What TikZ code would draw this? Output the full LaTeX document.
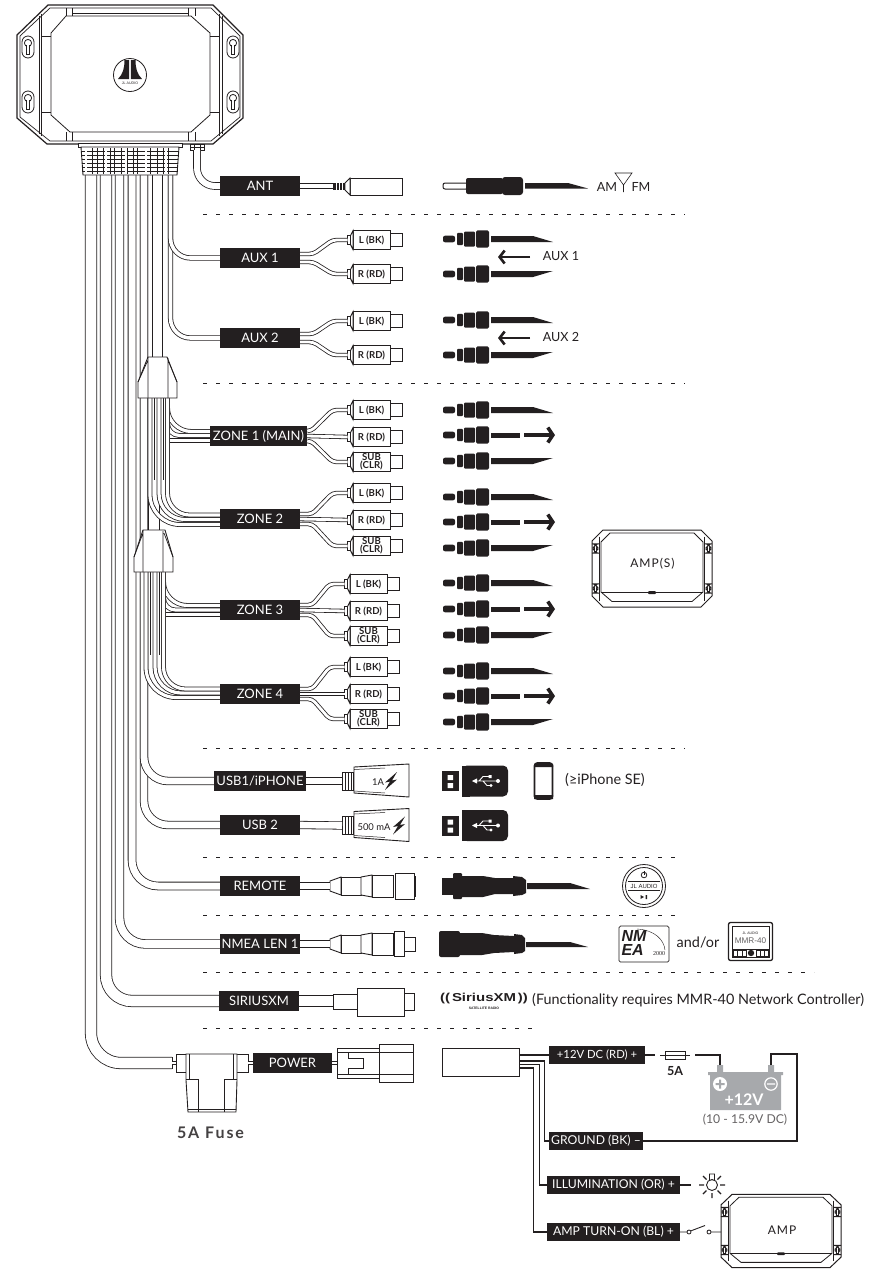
\documentclass[tikz,border=0pt]{standalone}
\usepackage{fontspec}
\setmainfont{Lato}
\newfontfamily\logofont{Liberation Sans}
\newfontfamily\wideface[FakeStretch=1.3]{Liberation Sans}
\newfontfamily\tinyserif{Liberation Serif}
\usetikzlibrary{calc}
\usetikzlibrary{arrows.meta}
\definecolor{ink}{HTML}{231F20}
\definecolor{batgray}{HTML}{A7A9AC}

\begin{document}
\begin{tikzpicture}[x=1pt, y=-1pt, line join=miter,
  lbl/.style={fill=ink, text=white, inner sep=0pt, minimum height=20pt, minimum width=#1pt, font=\fontsize{13}{14}\selectfont},
  lbs/.style={fill=ink, text=white, inner sep=0pt, minimum height=18pt, minimum width=#1pt, font=\fontsize{12.2}{13}\selectfont},
  captxt/.style={text=ink, inner sep=0pt, font=\fontsize{12.6}{13}\selectfont},
  notetxt/.style={text=ink, inner sep=0pt, font=\fontsize{14.4}{15}\selectfont},
  rcabody/.style={draw=ink, fill=white, line width=.9pt, inner sep=0pt, minimum width=37pt, minimum height=19pt, align=center, text=ink, font=\fontsize{9.6}{8.2}\selectfont\bfseries},
  wire/.style={draw=ink, line width=.8pt, double=white, double distance=#1pt},
  fan/.style={wire=2.8, rounded corners=4pt},
  dots/.style={ink, line width=1pt, dash pattern=on 4pt off 9pt},
  part/.style={draw=ink, fill=white, line width=.9pt},
  pwr/.style={ink, line width=1.3pt},
  pics/keyhole/.style={code={
    \draw[ink, line width=.8pt, rounded corners=6pt] (-6,-11) rectangle (6,11);
    \draw[ink, line width=.8pt] (0,-4) circle (3.6pt);
    \draw[ink, line width=.8pt, fill=white] (-1.8,-2) -- (-1.8,7) -- (1.8,7) -- (1.8,-2);
    \fill[white] (-1.4,-4) rectangle (1.4,6);
  }},
  pics/ampbox/.style={code={
    \draw[ink, line width=1pt, fill=white] (-49,-38.5) -- (49,-38.5) -- (60,-27.5) -- (60,27.5) -- (49,38.5) -- (-49,38.5) -- (-60,27.5) -- (-60,-27.5) -- cycle;
    \draw[ink, line width=1pt] (-53,-32) -- (-53,32) (52,-32) -- (52,32);
    \draw[ink, line width=.8pt] (-42,-35.5) -- (42,-35.5) -- (51,-26.5) -- (51,23.5) -- (40,33) -- (-40,33) -- (-51,23.5) -- (-51,-26.5) -- cycle;
    \draw[ink, line width=.7pt] (-51,23.5) -- (51,23.5);
    \fill[ink, rounded corners=1pt] (-4,22.5) rectangle (4,25.5);
    \foreach \kx in {-56.5,56.5}
      \foreach \ky in {-20,20}
        \pic[scale=.42] at (\kx,\ky) {keyhole};
  }},
  pics/plughead/.style={code={
    \fill[ink, rounded corners=2pt] (443,-3.3) rectangle (455,3.3);
    \fill[ink, rounded corners=1pt] (457,-6.2) rectangle (463,6.2);
    \fill[ink, rounded corners=1pt] (464,-7.5) rectangle (475,7.5);
    \fill[ink, rounded corners=1.5pt] (476,-8.7) rectangle (489,8.7);
  }},
  pics/usbplug/.style={code={
    \fill[ink] (442,-10) rectangle (459,10);
    \fill[white] (447.5,-6) rectangle (453,-1) (447.5,2) rectangle (453,7);
    \fill[ink, rounded corners=5pt] (462,-15.5) -- (508,-15.5) -- (508,15.5) -- (462,15.5) -- cycle;
    \fill[ink] (462,-15.5) rectangle (470,15.5);
    \draw[white, line width=.9pt] (475,0) -- (497,0) (479,0) -- (483,-4.5) -- (489,-4.5) (483,0) -- (487,4.5) -- (490,4.5);
    \fill[white] (472,0) -- (477,-2.6) -- (477,2.6) -- cycle;
    \fill[white] (498,0) circle (2pt) (488.5,-6) rectangle (491.5,-3) (491,4.5) circle (1.7pt);
  }},
  pics/bolt/.style={code={
    \fill[ink] (6,-9) -- (-6,1.5) -- (-1,.5) -- (-6,9) -- (6,-1.5) -- (1,-.5) -- cycle;
  }},
  pics/circular/.style={code={
    \draw[part] (330,-5) -- (341,-9) -- (341,9) -- (330,5) -- cycle;
    \draw[part] (341,-9) rectangle (361,9);
    \draw[part] (361,-9) -- (372,-11) -- (372,11) -- (361,9) -- cycle;
    \draw[part] (372,-11) rectangle (393,11);
  }}]
\useasboundingbox (0,0) rectangle (892,1270);

% head unit
\draw[ink, line width=1.2pt, fill=white] (48,5) -- (213,5) -- (243,35) -- (243,118) -- (213,144) -- (47,144) -- (17,118) -- (17,35) -- cycle;
\draw[ink, line width=.7pt] (50,8) -- (211,8) -- (240,36) -- (240,117) -- (211,141) -- (50,141) -- (20,117) -- (20,36) -- cycle;
\draw[ink, line width=.8pt] (39,16) -- (39,134) (41,14) -- (41,136) (219,14) -- (219,136) (222,16) -- (222,134);
\draw[ink, line width=.8pt] (66,16) -- (191,16) -- (210,33) -- (210,115) -- (191,132) -- (70,132) -- (51,115) -- (51,33) -- cycle;
\draw[ink, line width=.6pt] (66,8) -- (66,16) (72,8) -- (72,16) (188,8) -- (188,16) (195,8) -- (195,16) (72,13) -- (188,13)
  (41,36) -- (51,36) (41,112) -- (51,112) (210,36) -- (219,36) (210,112) -- (219,112)
  (66,132) -- (66,141) (72,132) -- (72,141) (188,132) -- (188,141) (195,132) -- (195,141);
\foreach \kx in {28,233}
  \foreach \ky in {47,102}
    \pic at (\kx,\ky) {keyhole};
\draw[ink, line width=.8pt] (130,75) circle (16.5pt);
\fill[ink] (124.5,60) -- (129.2,60) -- (129.2,79) -- (118,79) .. controls (123,74) and (124.5,68) .. cycle;
\fill[ink] (135.5,60) -- (130.8,60) -- (130.8,79) -- (142,79) .. controls (137,74) and (135.5,68) .. cycle;
\node[text=ink, inner sep=0pt, font=\logofont\fontsize{3.6}{4}\selectfont] (logoname) at (130,83) {JL AUDIO};

% labels
\node[lbl=80] (ant) at (260,186) {ANT};
\node[lbl=80] (aux1) at (260,258) {AUX 1};
\node[lbl=80] (aux2) at (260,338) {AUX 2};
\node[lbl=97] (zone1) at (258.5,436) {ZONE 1 (MAIN)};
\node[lbl=80] (zone2) at (260,519) {ZONE 2};
\node[lbl=80] (zone3) at (260,610) {ZONE 3};
\node[lbl=80] (zone4) at (260,694) {ZONE 4};
\node[lbl=92] (usb1) at (260,781) {USB1/iPHONE};
\node[lbl=80] (usb2) at (260,825) {USB 2};
\node[lbl=80] (remote) at (260,886) {REMOTE};
\node[lbl=80] (nmea) at (260,944) {NMEA LEN 1};
\node[lbl=80] (sirius) at (259,1001) {SIRIUSXM};
\node[lbl=79] (power) at (292.5,1063) {POWER};

% section rules
\foreach \ry/\rx in {214/685, 383/685, 748/685, 857/683, 915/683, 972/814, 1028/532}
  \draw[dots] (203,\ry) -- (\rx,\ry);

% cable trunk
\foreach \tn/\tx/\ln/\tw/\tr in {tsirius/106/sirius/10.6/26, tnmea/119.5/nmea/7.8/26, tremote/132/remote/7/26, tusbb/144/usb2/6.8/24, tusba/144/usb1/6.8/24, taux/170.5/aux2/3.6/20, tauy/170.5/aux1/3.6/20}{
  \coordinate (\tn) at (\tx,175);
  \draw[wire=\tw, rounded corners=\tr pt] (\tn) |- (\ln.west);
}
\coordinate (tpower) at (91,175);
\coordinate (pwend) at (172,1063);
\draw[wire=10.6, rounded corners=30pt] (tpower) |- (pwend);
\draw[ink, line width=.7pt] (172,1057) -- (172,1069);

% zone bundles
\coordinate (zbun) at (157.5,175);
\coordinate (zbuntop) at (157.5,357);
\draw[wire=9.6] (zbun) -- (zbuntop);
\draw[wire=10.6] (154,500) -- (154,530);

\draw[wire=3.2, rounded corners=24pt] (167.5,398) |- ($(zone1.west)+(0,-4.5)$);
\draw[wire=3.2, rounded corners=12pt] (167.5,418) |- ($(zone1.west)+(0,-.5)$);
\draw[wire=3.2] (168.5,440.5) -- ($(zone1.west)+(0,4.5)$);
\draw[wire=3.2, rounded corners=30pt] (150,398) |- ($(zone2.west)+(0,5.5)$);
\draw[wire=3.2, rounded corners=26pt] (159,398) |- ($(zone2.west)+(0,.5)$);
\draw[wire=3.2, rounded corners=22pt] (167.5,398) |- ($(zone2.west)+(0,-4)$);
\draw[ink, line width=.6pt] (154.5,398) -- (154.5,480) (163.5,398) -- (163.5,480);

\draw[wire=3.2, rounded corners=24pt] (163.5,572) |- ($(zone3.west)+(0,-4.5)$);
\draw[wire=3.2, rounded corners=12pt] (163.5,592) |- ($(zone3.west)+(0,0)$);
\draw[wire=3.2] (164.5,614.5) -- ($(zone3.west)+(0,4.5)$);
\draw[wire=3.2, rounded corners=30pt] (146,572) |- ($(zone4.west)+(0,3.5)$);
\draw[wire=3.2, rounded corners=26pt] (155,572) |- ($(zone4.west)+(0,-1)$);
\draw[wire=3.2, rounded corners=22pt] (163.5,572) |- ($(zone4.west)+(0,-5)$);
\draw[ink, line width=.6pt] (150.5,572) -- (150.5,655) (159.5,572) -- (159.5,655);

% bundle clamps
\draw[part] (148,357) -- (167,357) -- (177,382) -- (177,398) -- (138,398) -- (138,382) -- cycle;
\draw[ink, line width=.7pt] (148,357) -- (148,398) (168,358) -- (168,398) (138,382) -- (148,360) (177,382) -- (168,360);
\draw[part] (143,530) -- (165,530) -- (173,557) -- (173,572) -- (134,572) -- (134,557) -- cycle;
\draw[ink, line width=.7pt] (143,530) -- (143,572) (163,531) -- (163,572) (134,557) -- (143,533) (173,557) -- (164,533);

% wiring collar
\draw[part] (78,143) rectangle (182,147);
\draw[part] (81,147) -- (179,147) -- (177,175) -- (83,175) -- cycle;
\foreach \cy in {151,155,159,163,167,171}
  \draw[ink, line width=.9pt] (82,\cy) -- (178,\cy);
\foreach \cx in {92,97,103,110,114,121,127,133,137,145,150,157,163,168}
  \draw[ink, line width=.5pt] (\cx,148) -- (\cx,174);
\foreach \cx in {86,106,126,146,166}
  \draw[white, line width=1.4pt] (\cx,148) -- (\cx,174);

% antenna lead
\draw[part] (190,144) rectangle (204,150);
\draw[ink, line width=.7pt] (190,147) -- (204,147) (194,144) -- (194,150) (200,144) -- (200,150);
\coordinate (tant) at (197,150);
\draw[wire=6, rounded corners=18pt] (tant) |- (ant.west);
\coordinate (antend) at (334,186);
\draw[wire=3.6] (ant.east) -- (antend);
\node[part, minimum width=52pt, minimum height=17pt, inner sep=0pt] (antjack) at (376,186.5) {};
\draw[part] (345,183) -- (350,178) -- (350,195) -- (345,190) -- cycle;
\fill[ink] (333,183) rectangle (345,190);
\foreach \rbx in {336,339,342}
  \draw[white, line width=.4pt] (\rbx,183) -- (\rbx,190);

% RCA pigtails
\foreach \rn/\rt/\ry/\rs in {a1l/L (BK)/240/0, a1r/R (RD)/274/0, a2l/L (BK)/321/0, a2r/R (RD)/355/0,
    z1l/L (BK)/410/0, z1r/R (RD)/437/0, z1s/{SUB\\(CLR)}/462/0,
    z2l/L (BK)/493/0, z2r/R (RD)/520/0, z2s/{SUB\\(CLR)}/546/0,
    z3l/L (BK)/584/-3, z3r/R (RD)/611/-3, z3s/{SUB\\(CLR)}/636/-3,
    z4l/L (BK)/667/-3, z4r/R (RD)/694/-3, z4s/{SUB\\(CLR)}/719/-3}{
  \draw[part] (388+\rs,\ry-6.5) rectangle (402+\rs,\ry+6.5);
  \node[rcabody] (\rn) at (371.5+\rs,\ry) {\rt};
  \draw[part] (347.5+\rs,\ry-4.5) -- (350.5+\rs,\ry-4.5) -- (353+\rs,\ry-9.5) -- (353+\rs,\ry+9.5) -- (350.5+\rs,\ry+4.5) -- (347.5+\rs,\ry+4.5) -- cycle;
  \draw[ink, line width=.6pt] (350.5+\rs,\ry-4.5) -- (350.5+\rs,\ry+4.5);
}
\foreach \an/\al/\ar in {aux1/a1l/a1r, aux2/a2l/a2r}{
  \draw[fan] ($(\an.east)+(0,-4)$) -- ($(\an.east)+(13,-4)$) -- ($(\al.west)+(-20,0)$) -- ($(\al.west)+(-5,0)$);
  \draw[fan] ($(\an.east)+(0,4)$) -- ($(\an.east)+(13,4)$) -- ($(\ar.west)+(-20,0)$) -- ($(\ar.west)+(-5,0)$);
}
\foreach \zn/\zl/\zr/\zs/\zx in {zone1/z1l/z1r/z1s/4, zone2/z2l/z2r/z2s/12, zone3/z3l/z3r/z3s/12, zone4/z4l/z4r/z4s/12}{
  \draw[fan] ($(\zn.east)+(0,-5)$) -- ($(\zn.east)+(\zx,-5)$) -- ($(\zl.west)+(-20,0)$) -- ($(\zl.west)+(-5,0)$);
  \draw[fan] (\zn.east) -- ($(\zr.west)+(-5,0)$);
  \draw[fan] ($(\zn.east)+(0,5)$) -- ($(\zn.east)+(\zx,5)$) -- ($(\zs.west)+(-20,0)$) -- ($(\zs.west)+(-5,0)$);
}

% RCA plugs
\foreach \py in {239,320,410,497,583,671}{
  \pic at (0,\py) {plughead};
  \fill[ink] (491,\py-3) -- (533,\py-3) -- (553,\py+3) -- (491,\py+3) -- cycle;
}
\foreach \py in {274,355,461,548,635,722}{
  \pic at (0,\py) {plughead};
  \fill[ink] (491,\py-3) -- (553,\py-3) -- (533,\py+3) -- (491,\py+3) -- cycle;
}
\foreach \py in {435,522,609,696}{
  \pic at (0,\py) {plughead};
  \fill[ink] (491,\py-2.5) rectangle (520,\py+2.5);
  \draw[ink, line width=3.6pt, -{Straight Barb[length=5pt,width=15pt]}] (524,\py) -- (555,\py);
}

% antenna plug
\draw[ink, line width=1pt, fill=white, rounded corners=2pt] (443,183) rectangle (468,189);
\fill[ink, rounded corners=2pt] (466,178) rectangle (503,194);
\fill[ink, rounded corners=3pt] (502,177) rectangle (523,195);
\fill[ink] (525,183) -- (568,183) -- (588,188.5) -- (525,188.5) -- cycle;
\node[captxt] (am) at (607,187) {AM};
\node[captxt] (fm) at (641,187) {FM};
\coordinate (anttip) at (623.5,185);
\draw[ink, line width=.6pt] (615,173) -- (632,173) -- (anttip) -- cycle (anttip) -- (623.5,192);

% aux arrows
\foreach \sn/\st/\sy in {tagaux1/AUX 1/256, tagaux2/AUX 2/337}{
  \draw[ink, line width=2.6pt, -{Straight Barb[length=5pt,width=13pt]}] (530,\sy+1) -- (498,\sy+1);
  \node[captxt] (\sn) at (561,\sy) {\st};
}

% USB
\foreach \un/\ut/\uy in {usba/{1A}/781, usbb/{500 mA}/825.5}{
  \draw[part] (354,\uy-14) -- (409,\uy-17) -- (409,\uy+16) -- (354,\uy+12) -- cycle;
  \draw[ink, line width=.5pt] (354,\uy-11.5) -- (385,\uy-13) (354,\uy+10) -- (385,\uy+12);
  \draw[part] (342,\uy-9) rectangle (353,\uy+9);
  \foreach \ux in {345,348,351}
    \draw[ink, line width=.7pt] (\ux,\uy-9) -- (\ux,\uy+9);
  \pic at (0,\uy) {usbplug};
}
\draw[wire=6.6] (usb1.east) -- (342,781);
\draw[wire=6.6] (usb2.east) -- (342,825.5);
\node[text=ink, inner sep=0pt, font=\fontsize{9.4}{10}\selectfont] (onea) at (378,782) {1A};
\pic at (391,781) {bolt};
\node[text=ink, inner sep=0pt, font=\fontsize{9.4}{10}\selectfont] (fivemilli) at (374,827) {500 mA};
\pic at (399,825.5) {bolt};
\draw[ink, line width=1.8pt, fill=white, rounded corners=3pt] (534.5,763) rectangle (552.5,799);
\fill[ink] (534,764) rectangle (553,767) (534,795) rectangle (553,799);
\node[notetxt] (iphone) at (605,780) {(≥iPhone SE)};

% remote
\pic at (0,886) {circular};
\draw[wire=6.6] (remote.east) -- (330,886);
\draw[part] (395,873) rectangle (414,899);
\draw[part] (414,876) rectangle (415.5,896);
\fill[ink] (442,878) rectangle (453,895);
\fill[ink, rounded corners=1pt] (453,873) rectangle (462,899);
\fill[ink] (462,876) -- (483,876) -- (495,878) -- (513,878) -- (513,894) -- (495,894) -- (483,897) -- (462,897) -- cycle;
\fill[ink] (513,876) -- (522,877) -- (526,880) -- (526,893) -- (522,895) -- (513,896) -- cycle;
\fill[ink] (527,883) -- (570,883) -- (590,889) -- (527,889) -- cycle;
\draw[ink, line width=.8pt] (644,886) circle (21.5pt) (644,886) circle (18.5pt);
\draw[ink, line width=.8pt] (628,881.5) -- (660,881.5) (628,890.5) -- (660,890.5);
\node[text=ink, inner sep=0pt, font=\logofont\fontsize{6}{6.5}\selectfont] (remlogo) at (644,886) {JL AUDIO};
\draw[ink, line width=.8pt] (644,875) circle (2.8pt);
\draw[ink, line width=.8pt] (644,871) -- (644,875);
\fill[ink] (640.5,895) -- (644,897) -- (640.5,899) -- cycle (645.5,895) rectangle (647,899);

% nmea
\pic at (0,944) {circular};
\draw[wire=6.6] (nmea.east) -- (330,944);
\draw[part] (404,937) rectangle (415,951);
\draw[part] (394,931) rectangle (404,956);
\fill[ink, rounded corners=2pt] (439,931) rectangle (460,957);
\fill[ink] (460,933) -- (482,933) -- (494,935) -- (514,936) -- (514,952) -- (494,953) -- (482,955) -- (460,955) -- cycle;
\fill[ink] (514,934) -- (522,935) -- (525,938) -- (525,951) -- (522,953) -- (514,954) -- cycle;
\fill[ink] (526,942) -- (570,942) -- (588,947) -- (526,947) -- cycle;
\node[draw=ink, line width=.7pt, rounded corners=1.5pt, minimum width=50pt, minimum height=36pt, inner sep=0pt] (nmeabadge) at (644,944) {};
\node[text=ink, inner sep=0pt, font=\logofont\bfseries\itshape\fontsize{16}{14}\selectfont, align=left] (nmeatext) at (634,943) {NM\\EA};
\draw[ink, line width=.4pt] (637,929) .. controls (655,930) and (664,940) .. (665,950);
\node[text=ink, inner sep=0pt, font=\tinyserif\fontsize{6}{6.5}\selectfont] (nmeayear) at (659,954) {2000};
\node[notetxt] (andor) at (698,943) {and/or};
\node[draw=ink, line width=1.3pt, rounded corners=2pt, minimum width=44pt, minimum height=38pt, inner sep=0pt] (mmr) at (750.5,941.5) {};
\draw[ink, line width=.5pt] (732,926) rectangle (769,957) (732,949) -- (769,949);
\node[text=ink, inner sep=0pt, font=\logofont\fontsize{3.5}{4}\selectfont] (mmrlogo) at (750.5,933.5) {JL AUDIO};
\node[text=ink!70, inner sep=0pt, font=\logofont\fontsize{8.2}{9}\selectfont] (mmrname) at (750.5,940.5) {MMR-40};
\fill[ink] (751,953) circle (3.2pt);
\draw[ink, line width=.6pt] (733,950.5) rectangle (746,956.5) (756,950.5) rectangle (768,956.5) (737.5,950.5) -- (737.5,956.5) (742,950.5) -- (742,956.5) (760,950.5) -- (760,956.5) (764,950.5) -- (764,956.5);

% sirius
\draw[wire=10.6] (sirius.east) -- (333,1001);
\draw[part] (333,994) rectangle (357,1009);
\draw[part] (404,993) rectangle (414,1010);
\node[part, minimum width=47pt, minimum height=28pt, inner sep=0pt] (siriusjack) at (380.5,1002) {};
\node[text=ink, inner sep=0pt, font=\wideface\bfseries\fontsize{11.5}{12}\selectfont] (siriuslogo) at (484,999) {((\,SiriusXM\,))};
\node[text=ink, inner sep=0pt, font=\logofont\bfseries\fontsize{3.4}{4}\selectfont] (siriussub) at (484,1008) {SATELLITE RADIO};
\node[notetxt, anchor=west] (siriusnote) at (532,1000) {(Functionality requires MMR-40 Network Controller)};

% fuse and power plug
\node[part, minimum width=72pt, minimum height=18pt, inner sep=0pt] (fuseh) at (212,1063) {};
\draw[wire=2.6] (pwend) -- (fuseh.west);
\draw[wire=2.6] (fuseh.east) -- (power.west);
\draw[part] (186,1054) -- (237,1054) -- (237,1080) -- (236,1112) -- (188,1112) -- (186,1080) -- cycle;
\draw[ink, line width=.7pt] (189,1054) -- (189,1079) (233,1054) -- (233,1079) (186,1079) -- (198,1079) -- (198,1112) (237,1079) -- (224,1079) -- (224,1112) (188,1109) -- (236,1109);
\node[text=ink!85, inner sep=0pt, font=\fontsize{16}{17}\selectfont\bfseries\addfontfeature{LetterSpace=12}] (fusetag) at (210.5,1133) {5A Fuse};
\draw[part] (379,1044) rectangle (413,1082);
\node[part, minimum width=42pt, minimum height=30pt, inner sep=0pt] (pplug) at (358,1063) {};
\draw[wire=2.6] (power.east) -- (pplug.west);
\draw[ink, line width=.7pt] (337,1052) -- (413,1052) (337,1074) -- (413,1074);
\draw[ink, line width=.7pt] (348,1052) -- (348,1058) -- (363,1058) -- (363,1068) -- (348,1068) -- (348,1074);

% power harness
\node[part, minimum width=77pt, minimum height=28pt, inner sep=0pt] (harness) at (480.5,1062) {};
\node[lbs=96, font=\fontsize{11.3}{12}\selectfont] (v12) at (597,1055) {+12V DC (RD) +};
\node[lbs=94] (gnd) at (596,1141) {GROUND (BK) –};
\node[lbs=133] (illum) at (613.5,1185) {ILLUMINATION (OR) +};
\node[lbs=133] (ampon) at (613.5,1232) {AMP TURN-ON (BL) +};
\draw[pwr] (harness.east |- v12) -- (v12);
\draw[pwr] ($(harness.east)+(0,-1)$) -| ($(gnd.west)+(-4,0)$) -- (gnd.west);
\draw[pwr] ($(harness.east)+(0,2.5)$) -| ($(illum.west)+(-7,0)$) -- (illum.west);
\draw[pwr] ($(harness.east)+(0,6)$) -| ($(ampon.west)+(-13,0)$) -- (ampon.west);

% battery
\node[draw=ink, line width=.7pt, fill=white, minimum width=20pt, minimum height=8pt, inner sep=0pt] (fuse5) at (675,1055) {};
\draw[ink, line width=.7pt] (660,1055) -- (690,1055);
\node[text=ink, inner sep=0pt, font=\fontsize{12.5}{13}\selectfont\bfseries] (fusefive) at (675,1071) {5A};
\draw[pwr] (v12.east) -- (655,1055);
\fill[batgray] (708,1072) rectangle (783,1075) (710,1075) rectangle (781,1110) (717,1065) rectangle (723,1072) (768,1065) rectangle (774,1072);
\coordinate (batplus) at (720,1065);
\coordinate (batminus) at (771,1065);
\draw[pwr] (695,1055) -| (batplus);
\fill[white] (720,1084) circle (7pt);
\fill[batgray] (719,1079.5) rectangle (721,1088.5) (715.5,1083) rectangle (724.5,1085);
\draw[white, line width=1.2pt] (771,1084) circle (6.2pt) (767,1084) -- (775,1084);
\node[text=white, inner sep=0pt, font=\fontsize{16}{17}\selectfont\bfseries] (batvolt) at (744,1100) {+12V};
\node[text=ink!70, inner sep=0pt, font=\fontsize{12.2}{13}\selectfont] (batrange) at (745,1120) {(10 - 15.9V DC)};
\draw[pwr] (batminus) |- (797,1054) |- (gnd.east);

% lamp
\coordinate (lamp) at (712,1185);
\draw[pwr] (illum.east) -- (691,1185);
\draw[ink, line width=.9pt] (lamp) circle (5.5pt) (709.5,1180) rectangle (714.5,1174);
\draw[ink, line width=1.2pt] (699,1185) -- (704,1185) (720,1185) -- (725,1185) (712,1193) -- (712,1198)
  (703,1176) -- (706.5,1179.5) (721,1176) -- (717.5,1179.5) (703,1194) -- (706.5,1190.5) (721,1194) -- (717.5,1190.5);

% amps
\pic at (652,568.5) {ampbox};
\node[text=ink, inner sep=0pt, font=\fontsize{12}{13}\selectfont\addfontfeature{LetterSpace=8}] (ampstag) at (652.5,564) {AMP(S)};
\pic[yscale=.95] at (781,1231) {ampbox};
\node[text=ink, inner sep=0pt, font=\fontsize{12}{13}\selectfont\addfontfeature{LetterSpace=8}] (amptag) at (782,1230) {AMP};

% turn-on switch
\coordinate (swa) at (689,1232);
\coordinate (swb) at (709,1232);
\coordinate (ampleft) at (721,1232);
\draw[ink, line width=.9pt] (ampon.east) -- ++(7,0) (690.5,1231) -- (705,1225.5) (711,1232) -- (ampleft);
\draw[ink, line width=.8pt, fill=white] (swa) circle (2pt) (swb) circle (2pt);
\end{tikzpicture}
\end{document}
